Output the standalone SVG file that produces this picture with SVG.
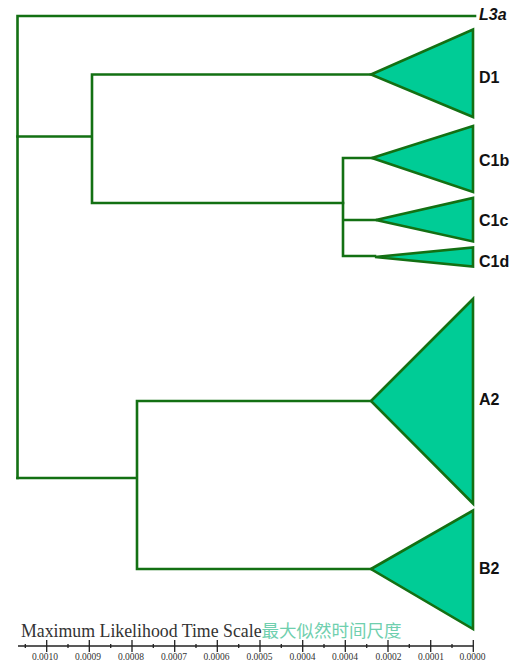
<svg xmlns="http://www.w3.org/2000/svg" width="517" height="661" viewBox="0 0 517 661">
<style>
.br{fill:none;stroke:#137013;stroke-width:2.6;stroke-linejoin:miter;stroke-linecap:square}
.tri{fill:#00cc96;stroke:#137013;stroke-width:2.6;stroke-linejoin:miter}
.lab{font-family:"Liberation Sans",Arial,sans-serif;font-weight:bold;font-size:16px;fill:#111}
.ax{stroke:#222;stroke-width:1.3;fill:none}
.tk{font-family:"Liberation Serif","Times New Roman",serif;font-size:9.5px;fill:#333;text-anchor:middle}
</style>
<rect width="517" height="661" fill="#fff"/>
<g id="connectors">
<path class="br" d="M17.5,478 V16 H475"/>
<path class="br" d="M17.5,136.5 H92 M92,74.5 V203 M92,74.5 H371 M92,203 H343"/>
<path class="br" d="M343,158 V256 M343,158 H372 M343,220 H376 M343,256 H375"/>
<path class="br" d="M17.5,478 H137 M137,401 V569 M137,401 H371 M137,569 H371"/>
</g>
<g id="L3a"><text x="479" y="20" class="lab" font-style="italic" font-size="14px">L3a</text></g>
<g id="D1"><polygon class="tri" points="371,74.5 473,29.5 473,117"/><text x="479" y="83" class="lab">D1</text></g>
<g id="C1b"><polygon class="tri" points="372,158 473,126 473,192"/><text x="479" y="166" class="lab">C1b</text></g>
<g id="C1c"><polygon class="tri" points="376,220 473,198 473,241.5"/><text x="479" y="226" class="lab">C1c</text></g>
<g id="C1d"><polygon class="tri" points="375,257 473,247.5 473,266.5"/><text x="479" y="267" class="lab">C1d</text></g>
<g id="A2"><polygon class="tri" points="371,401 473,299 473,503.5"/><text x="479" y="405" class="lab">A2</text></g>
<g id="B2"><polygon class="tri" points="371,569 473,510.5 473,629"/><text x="479" y="574" class="lab">B2</text></g>
<g id="axis">
<text x="21" y="636.5" font-family="'Liberation Serif','Times New Roman',serif" font-size="17.8" fill="#333">Maximum Likelihood Time Scale<tspan font-family="'Noto Sans CJK SC',sans-serif" font-size="17.5" fill="#6fcfae">最大似然时间尺度</tspan></text>
<path class="ax" d="M18,646 H473.3"/>
<path class="ax" d="M46.7,640 v12 M89.3,640 v12 M132,640 v12 M174.7,640 v12 M217.3,640 v12 M260,640 v12 M302.7,640 v12 M345.3,640 v12 M388,640 v12 M430.7,640 v12 M473.3,640 v12"/>
<path class="ax" d="M25.3,644 v4 M68,644 v4 M110.7,644 v4 M153.3,644 v4 M196,644 v4 M238.7,644 v4 M281.3,644 v4 M324,644 v4 M366.7,644 v4 M409.3,644 v4 M452,644 v4"/>
<text class="tk" x="45" y="660">0.0010</text>
<text class="tk" x="88" y="660">0.0009</text>
<text class="tk" x="131" y="660">0.0008</text>
<text class="tk" x="174" y="660">0.0007</text>
<text class="tk" x="216.5" y="660">0.0006</text>
<text class="tk" x="259.5" y="660">0.0005</text>
<text class="tk" x="302.5" y="660">0.0004</text>
<text class="tk" x="345" y="660">0.0004</text>
<text class="tk" x="388.5" y="660">0.0002</text>
<text class="tk" x="431" y="660">0.0001</text>
<text class="tk" x="472.5" y="660">0.0000</text>
</g>
</svg>
